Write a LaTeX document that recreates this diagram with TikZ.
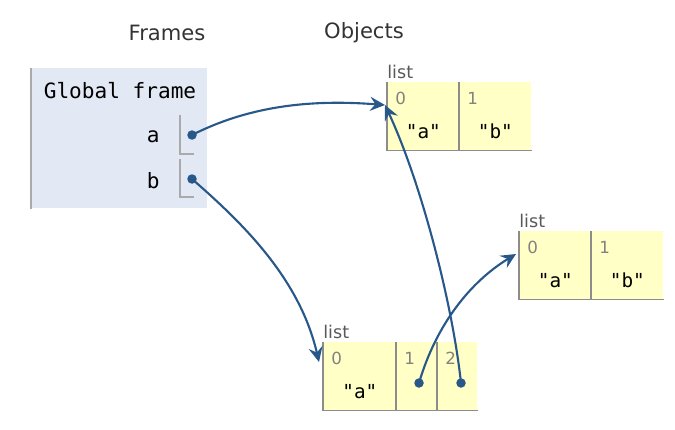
\documentclass[tikz,border=0pt]{standalone}
\usepackage{fontspec}
\setmainfont{DejaVu Sans}
\setmonofont{DejaVu Sans Mono}
\usetikzlibrary{arrows.meta,positioning}
\definecolor{framebg}{RGB}{226,232,244}
\definecolor{frameedge}{RGB}{170,170,170}
\definecolor{listbg}{RGB}{255,255,198}
\definecolor{listedge}{RGB}{140,140,140}
\definecolor{ptrblue}{RGB}{40,88,138}
\definecolor{idxgray}{RGB}{130,130,130}
\tikzset{
  header/.style={font=\fontsize{12}{14}\selectfont, text=black!80},
  framebox/.style={fill=framebg, minimum width=3.52cm, minimum height=2.8cm, anchor=north west, inner sep=0},
  varname/.style={font=\ttfamily\fontsize{12}{14}\selectfont, anchor=east, inner sep=0},
  cellbox/.style={fill=listbg, minimum height=1.36cm, anchor=north west, inner sep=0},
  listlabel/.style={font=\fontsize{10}{12}\selectfont, text=black!65, anchor=south west, inner sep=0},
  idx/.style={font=\fontsize{9.5}{11}\selectfont, text=idxgray, anchor=west, inner sep=0},
  val/.style={font=\ttfamily\fontsize{11}{13}\selectfont, inner sep=0},
  listline/.style={draw=listedge, line width=0.9pt},
  ptrdot/.style={circle, fill=ptrblue, minimum size=0.19cm, inner sep=0},
  ptrarrow/.style={draw=ptrblue, line width=1.2pt, -{Stealth[length=8.5pt, width=8pt, inset=3pt]}}
}
\begin{document}
\begin{tikzpicture}[x=0.02cm, y=-0.02cm]
    \useasboundingbox (0,0) rectangle (675,429);

    % headings
    \node[header] (hframes) at (167,33) {Frames};
    \node[header] (hobjects) at (364,33) {Objects};

    % global frame
    \node[framebox] (gframe) at (31,68) {};
    \draw[frameedge, line width=1.2pt] (gframe.north west) -- (gframe.south west);
    \node[font=\ttfamily\fontsize{12}{14}\selectfont] (gtitle) at (120,91) {Global frame};
    \node[varname] (va) at (160,137) {a};
    \node[varname] (vb) at (160,181) {b};
    \draw[frameedge, line width=0.6pt] (180,115) -- (180,154) -- (194,154);
    \draw[frameedge, line width=0.6pt] (180,159) -- (180,197) -- (194,197);
    \node[ptrdot] (adot) at (192,135) {};
    \node[ptrdot] (bdot) at (192,179) {};

    % list at top
    \node[cellbox, minimum width=1.44cm] (la0) at (387,82) {};
    \node[cellbox, minimum width=1.44cm] (la1) at (459,82) {};
    \draw[listline] (la0.north west) -- (la0.south west) -- (la1.south east);
    \draw[listline] (la1.north west) -- (la1.south west);
    \node[listlabel] (lalab) at ([shift={(0,-3)}]la0.north west) {list};
    \node[idx] at ([shift={(8,16)}]la0.north west) {0};
    \node[idx] at ([shift={(8,16)}]la1.north west) {1};
    \node[val] (la0v) at ([shift={(0,15)}]la0.center) {"a"};
    \node[val] (la1v) at ([shift={(0,15)}]la1.center) {"b"};

    % list at right
    \node[cellbox, minimum width=1.44cm] (lb0) at (519,231) {};
    \node[cellbox, minimum width=1.44cm] (lb1) at (591,231) {};
    \draw[listline] (lb0.north west) -- (lb0.south west) -- (lb1.south east);
    \draw[listline] (lb1.north west) -- (lb1.south west);
    \node[listlabel] (lblab) at ([shift={(0,-3)}]lb0.north west) {list};
    \node[idx] at ([shift={(8,16)}]lb0.north west) {0};
    \node[idx] at ([shift={(8,16)}]lb1.north west) {1};
    \node[val] (lb0v) at ([shift={(0,15)}]lb0.center) {"a"};
    \node[val] (lb1v) at ([shift={(0,15)}]lb1.center) {"b"};

    % list at bottom
    \node[cellbox, minimum width=1.46cm] (lc0) at (323,342) {};
    \node[cellbox, minimum width=0.82cm] (lc1) at (396,342) {};
    \node[cellbox, minimum width=0.80cm] (lc2) at (437,342) {};
    \draw[listline] (lc0.north west) -- (lc0.south west) -- (lc2.south east);
    \draw[listline] (lc1.north west) -- (lc1.south west);
    \draw[listline] (lc2.north west) -- (lc2.south west);
    \node[listlabel] (lclab) at ([shift={(0,-3)}]lc0.north west) {list};
    \node[idx] at ([shift={(8,16)}]lc0.north west) {0};
    \node[idx] at ([shift={(8,16)}]lc1.north west) {1};
    \node[idx] at ([shift={(8,16)}]lc2.north west) {2};
    \node[val] (lc0v) at ([shift={(0,15)}]lc0.center) {"a"};
    \node[ptrdot] (c1dot) at (419,383) {};
    \node[ptrdot] (c2dot) at (461,383) {};

    % arrow targets
    \coordinate (lain) at ([shift={(-2,23)}]la0.north west);
    \coordinate (lbin) at ([shift={(-3,23)}]lb0.north west);
    \coordinate (lcin) at ([shift={(-4,20)}]lc0.north west);

    % pointers
    \draw[ptrarrow] (adot.center) .. controls (255,103) and (320,100) .. (lain);
    \draw[ptrarrow] (bdot.center) .. controls (245,225) and (300,280) .. (lcin);
    \draw[ptrarrow] (c1dot.center) .. controls (436,325) and (470,282) .. (lbin);
    \draw[ptrarrow] (c2dot.center) .. controls (452,300) and (420,180) .. (lain);
\end{tikzpicture}
\end{document}
